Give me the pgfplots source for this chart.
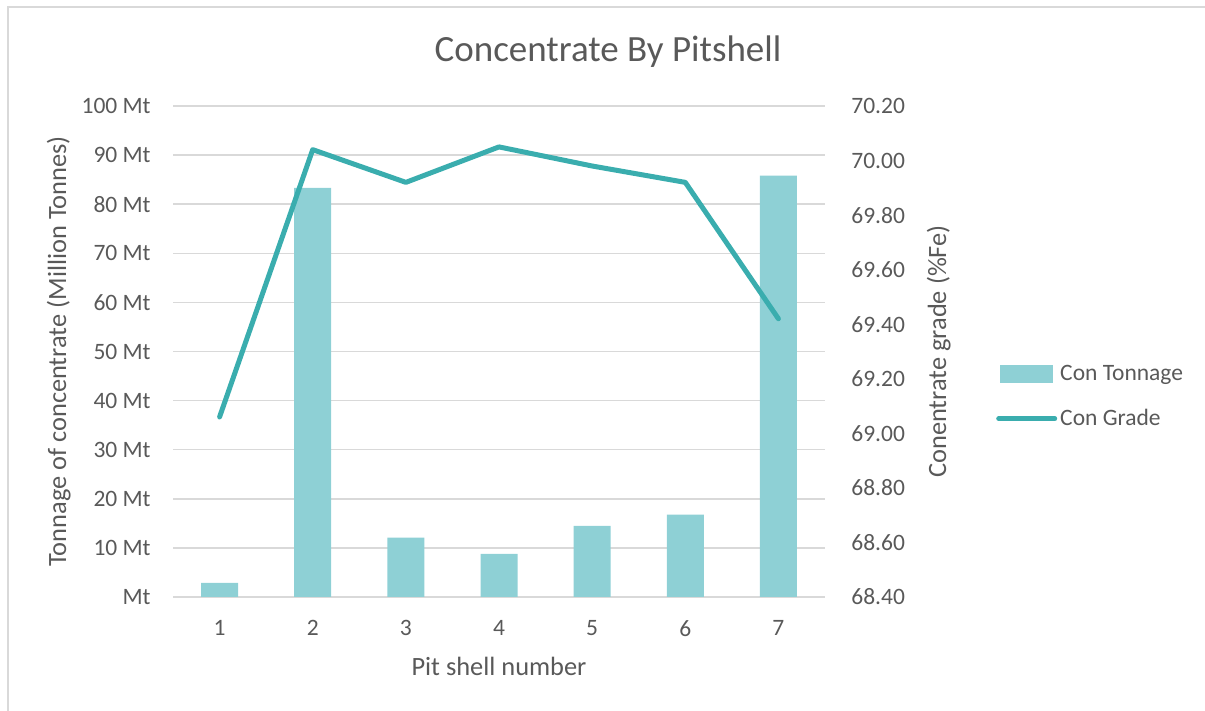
\documentclass[border=0pt]{standalone}
\usepackage{fontspec}
\setmainfont{Carlito}
\usepackage{pgfplots}
\pgfplotsset{compat=1.18}
\definecolor{barc}{HTML}{8ED0D5}
\definecolor{linec}{HTML}{3AADAE}
\definecolor{txt}{HTML}{595959}
\definecolor{gridc}{HTML}{D9D9D9}
\pgfplotstableread{
x ton grade
1 2.9 69.06
2 83.3 70.04
3 12.1 69.92
4 8.8 70.05
5 14.5 69.98
6 16.8 69.92
7 85.8 69.42
}\datatable
\begin{document}
\begin{tikzpicture}
\useasboundingbox (0,0) rectangle (602.5pt,355.5pt);
\draw[gridc, line width=1pt] (3.75pt,-5pt) -- (3.75pt,351.75pt) -- (610pt,351.75pt);
\node[txt, anchor=base, inner sep=0pt, font=\fontsize{18.5}{22}\selectfont] at (304pt,324.5pt) {Concentrate By Pitshell};
\pgfplotsset{
  common/.style={
    at={(86.5pt,57pt)}, anchor=south west,
    width=326pt, height=245.5pt, scale only axis,
    xmin=0.5, xmax=7.5,
    major tick length=0pt,
    /pgf/number format/assume math mode=true,
    tick label style={font=\fontsize{11.75}{14}\selectfont, text=txt},
    label style={font=\fontsize{13.2}{16}\selectfont, text=txt},
  }
}
\begin{axis}[common,
  ymin=0, ymax=100,
  ytick={0,10,...,100},
  yticklabels={Mt,10 Mt,20 Mt,30 Mt,40 Mt,50 Mt,60 Mt,70 Mt,80 Mt,90 Mt,100 Mt},
  ymajorgrids, grid style={gridc, line width=0.75pt},
  axis x line*=bottom, axis y line*=left,
  x axis line style={gridc, line width=0.75pt, -},
  y axis line style={draw=none},
  xtick={1,...,7},
  xticklabels={1,2,3,4,5,6,7},
  xticklabel style={inner sep=0pt, yshift=-11.5pt},
  yticklabel style={inner sep=0pt, xshift=-11pt},
  xlabel={Pit shell number},
  xlabel style={at={(rel axis cs:0.5,0)}, anchor=base, yshift=-39.5pt, inner sep=0pt},
  ylabel={Tonnage of concentrate (Million Tonnes)},
  ylabel style={at={(axis description cs:-0.1641,0.5)}, anchor=base, inner sep=0pt},
]
\addplot[ybar, bar width=18.5pt, fill=barc, draw=none] table[x=x, y=ton] {\datatable};
\end{axis}
\begin{axis}[common,
  ymin=68.4, ymax=70.2,
  ytick={68.4,68.6,68.8,69.0,69.2,69.4,69.6,69.8,70.0,70.2},
  yticklabels={68.40,68.60,68.80,69.00,69.20,69.40,69.60,69.80,70.00,70.20},
  axis y line*=right, axis x line=none,
  y axis line style={draw=none},
  yticklabel style={inner sep=0pt, xshift=13pt, anchor=west},
  ylabel={Conentrate grade (\%Fe)},
  ylabel style={at={(axis description cs:1.1856,0.5)}, anchor=base, inner sep=0pt, rotate=0},
  legend style={at={(axis description cs:1.262,0.408)}, anchor=west, draw=none, fill=none,
    font=\fontsize{11.75}{14}\selectfont, text=txt, row sep=10pt, inner sep=0pt,
    nodes={inner sep=1.5pt}},
  legend cell align=left,
]
\addlegendimage{legend image code/.code={\fill[barc] (0pt,-4.25pt) rectangle (26pt,4.25pt);}}
\addlegendentry{Con Tonnage}
\addplot[linec, line width=2.5pt, line cap=round, line join=round, mark=none,
  legend image code/.code={\draw[linec, line width=2.5pt, line cap=round] (-1pt,0pt) -- (27pt,0pt);}]
  table[x=x, y=grade] {\datatable};
\addlegendentry{Con Grade}
\end{axis}
\end{tikzpicture}
\end{document}
